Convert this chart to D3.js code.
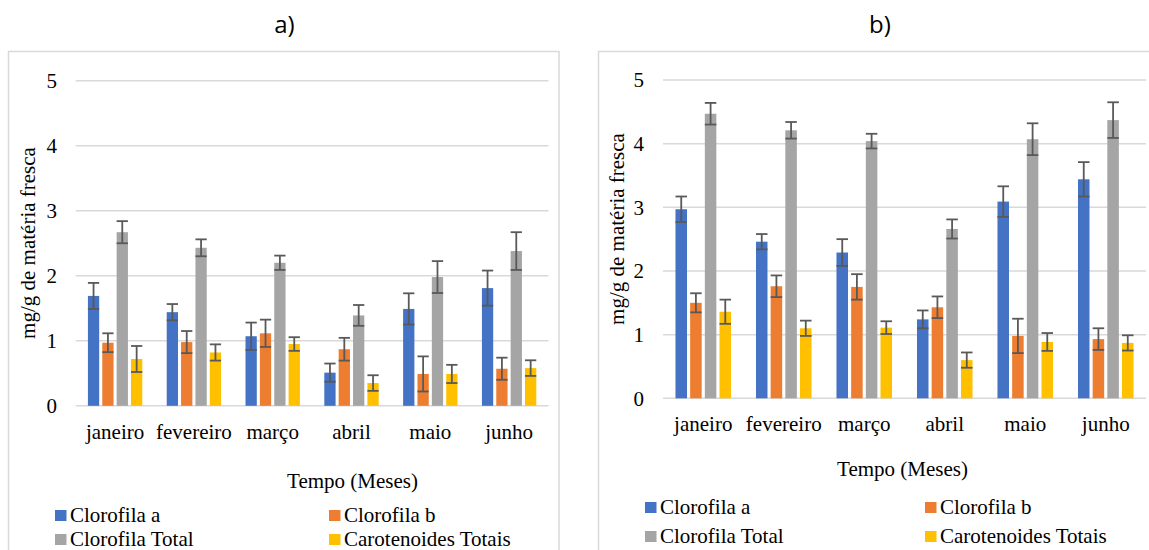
<!DOCTYPE html>
<html>
<head>
<meta charset="utf-8">
<script src="https://cdn.jsdelivr.net/npm/d3@7/dist/d3.min.js"></script>
<style>
  html, body { margin: 0; padding: 0; background: #ffffff; }
  svg { display: block; }
  svg text.serif { font-family: "Liberation Serif"; font-size: 21px; fill: #000; }
  svg text.title { font-family: "Open Sans", "Noto Sans", sans-serif; font-size: 24px; fill: #000; }
</style>
</head>
<body>
<svg id="chart" width="1149" height="550"></svg>
<script>
// Months on the x axis and the four measured pigments
const months = ["janeiro", "fevereiro", "março", "abril", "maio", "junho"];
const seriesNames = ["Clorofila a", "Clorofila b", "Clorofila Total", "Carotenoides Totais"];
const yTicks = [0, 1, 2, 3, 4, 5];
const panelTitles = ["a)", "b)"];

// Panel a) — means (mg/g de matéria fresca)
const aClorofilaA = [1.69, 1.44, 1.07, 0.51, 1.49, 1.81];
const aClorofilaB = [0.97, 0.98, 1.115, 0.87, 0.49, 0.57];
const aClorofilaTotal = [2.67, 2.43, 2.20, 1.39, 1.98, 2.38];
const aCarotenoides = [0.72, 0.82, 0.95, 0.35, 0.49, 0.58];
// Panel a) — error (±)
const aErrClorofilaA = [0.20, 0.125, 0.21, 0.14, 0.24, 0.27];
const aErrClorofilaB = [0.145, 0.17, 0.21, 0.175, 0.27, 0.17];
const aErrClorofilaTotal = [0.17, 0.13, 0.11, 0.16, 0.245, 0.29];
const aErrCarotenoides = [0.20, 0.125, 0.105, 0.12, 0.14, 0.12];

// Panel b) — means (mg/g de matéria fresca)
const bClorofilaA = [2.97, 2.46, 2.29, 1.24, 3.09, 3.44];
const bClorofilaB = [1.50, 1.76, 1.75, 1.43, 0.98, 0.93];
const bClorofilaTotal = [4.47, 4.21, 4.04, 2.66, 4.07, 4.37];
const bCarotenoides = [1.36, 1.10, 1.11, 0.60, 0.885, 0.87];
// Panel b) — error (±)
const bErrClorofilaA = [0.20, 0.12, 0.21, 0.14, 0.24, 0.27];
const bErrClorofilaB = [0.15, 0.17, 0.20, 0.17, 0.27, 0.17];
const bErrClorofilaTotal = [0.17, 0.13, 0.115, 0.15, 0.25, 0.28];
const bErrCarotenoides = [0.19, 0.12, 0.10, 0.12, 0.14, 0.12];

const colors = ["#4472C4", "#ED7D31", "#A5A5A5", "#FFC000"];

const svg = d3.select("#chart");

const panels = [
  {
    title: panelTitles[0], titleX: 284.5,
    frame: { x: 8.5, y: 51.5, w: 550.5, h: 520 },
    plot: { x0: 75.7, x1: 548.5, yTop: 80.7, yBottom: 405.8 },
    means: [aClorofilaA, aClorofilaB, aClorofilaTotal, aCarotenoides],
    errs: [aErrClorofilaA, aErrClorofilaB, aErrClorofilaTotal, aErrCarotenoides],
    tickX: 57, yTitleX: 35, yTitleY: 243,
    monthY: 438.5, xTitleX: 352.5, xTitleY: 487.5,
    legend: { cols: [55, 329], rows: [510, 534] }
  },
  {
    title: panelTitles[1], titleX: 880,
    frame: { x: 598.5, y: 51.5, w: 600, h: 520 },
    plot: { x0: 663, x1: 1146, yTop: 80, yBottom: 398.3 },
    means: [bClorofilaA, bClorofilaB, bClorofilaTotal, bCarotenoides],
    errs: [bErrClorofilaA, bErrClorofilaB, bErrClorofilaTotal, bErrCarotenoides],
    tickX: 644, yTitleX: 624, yTitleY: 229,
    monthY: 431, xTitleX: 902.5, xTitleY: 476,
    legend: { cols: [645, 925], rows: [502, 531] }
  }
];

panels.forEach(p => {
  const g = svg.append("g");

  // Panel title
  g.append("text").attr("class", "title")
    .attr("x", p.titleX).attr("y", 33.3)
    .attr("text-anchor", "middle")
    .text(p.title);

  // Chart frame
  g.append("rect")
    .attr("x", p.frame.x).attr("y", p.frame.y)
    .attr("width", p.frame.w).attr("height", p.frame.h)
    .attr("fill", "none").attr("stroke", "#d9d9d9").attr("stroke-width", 1.5);

  const y = d3.scaleLinear().domain([0, 5]).range([p.plot.yBottom, p.plot.yTop]);
  const x = d3.scaleBand().domain(months).range([p.plot.x0, p.plot.x1])
    .paddingInner(0.31).paddingOuter(0.155);
  const xs = d3.scaleBand().domain(seriesNames).range([0, x.bandwidth()])
    .paddingInner(0.215).paddingOuter(0);

  // Gridlines
  g.append("g").selectAll("line").data(yTicks).join("line")
    .attr("x1", p.plot.x0).attr("x2", p.plot.x1)
    .attr("y1", d => y(d)).attr("y2", d => y(d))
    .attr("stroke", "#d9d9d9").attr("stroke-width", 1.5);

  // Y axis via d3.axisLeft (domain line and ticks hidden)
  const yAxis = g.append("g")
    .attr("transform", `translate(${p.tickX},0)`)
    .call(d3.axisLeft(y).tickValues(yTicks).tickSize(0).tickPadding(0).tickFormat(d3.format("d")));
  yAxis.attr("font-family", null).attr("font-size", null);
  yAxis.select(".domain").remove();
  yAxis.selectAll("text").attr("class", "serif").attr("fill", null);

  // X axis labels via d3.axisBottom
  const xAxis = g.append("g")
    .attr("transform", `translate(0,${p.monthY})`)
    .call(d3.axisBottom(x).tickSize(0).tickPadding(0));
  xAxis.attr("font-family", null).attr("font-size", null);
  xAxis.select(".domain").remove();
  xAxis.selectAll("text").attr("class", "serif").attr("fill", null)
    .attr("dy", 0).attr("y", 0);

  // Bars
  const rows = [];
  months.forEach((m, i) => {
    seriesNames.forEach((s, k) => {
      rows.push({ month: m, series: s, k, v: p.means[k][i], e: p.errs[k][i] });
    });
  });

  g.append("g").selectAll("rect").data(rows).join("rect")
    .attr("x", d => x(d.month) + xs(d.series))
    .attr("y", d => y(d.v))
    .attr("width", xs.bandwidth())
    .attr("height", d => y(0) - y(d.v))
    .attr("fill", d => colors[d.k]);

  // Error bars
  const eb = g.append("g").attr("stroke", "#595959").attr("stroke-width", 1.8);
  const cx = d => x(d.month) + xs(d.series) + xs.bandwidth() / 2;
  const half = xs.bandwidth() / 2;
  eb.selectAll("line.stem").data(rows).join("line").attr("class", "stem")
    .attr("x1", cx).attr("x2", cx)
    .attr("y1", d => y(d.v + d.e)).attr("y2", d => y(d.v - d.e));
  eb.selectAll("line.capTop").data(rows).join("line").attr("class", "capTop")
    .attr("x1", d => cx(d) - half).attr("x2", d => cx(d) + half)
    .attr("y1", d => y(d.v + d.e)).attr("y2", d => y(d.v + d.e));
  eb.selectAll("line.capBottom").data(rows).join("line").attr("class", "capBottom")
    .attr("x1", d => cx(d) - half).attr("x2", d => cx(d) + half)
    .attr("y1", d => y(d.v - d.e)).attr("y2", d => y(d.v - d.e));

  // Axis titles
  g.append("text").attr("class", "serif")
    .attr("transform", `translate(${p.yTitleX},${p.yTitleY}) rotate(-90)`)
    .attr("text-anchor", "middle")
    .text("mg/g de matéria fresca");

  g.append("text").attr("class", "serif")
    .attr("x", p.xTitleX).attr("y", p.xTitleY)
    .attr("text-anchor", "middle")
    .text("Tempo (Meses)");

  // Legend: two columns, two rows
  const lg = g.append("g").selectAll("g").data(seriesNames).join("g")
    .attr("transform", (d, i) => `translate(${p.legend.cols[i % 2]},${p.legend.rows[Math.floor(i / 2)]})`);
  lg.append("rect").attr("x", 0).attr("y", 0).attr("width", 11.5).attr("height", 11)
    .attr("fill", (d, i) => colors[i]);
  lg.append("text").attr("class", "serif").attr("x", 15).attr("y", 11.5)
    .text(d => d);
});
</script>
</body>
</html>
